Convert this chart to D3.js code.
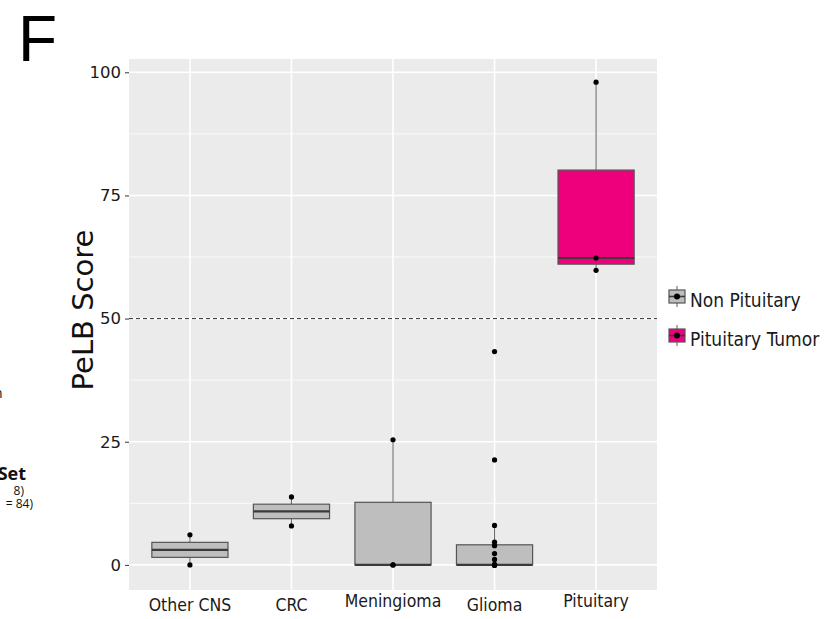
<!DOCTYPE html>
<html>
<head>
<meta charset="utf-8">
<script src="https://cdn.jsdelivr.net/npm/d3@7"></script>
<style>
  html, body { margin: 0; padding: 0; background: #ffffff; }
  svg { display: block; }
</style>
</head>
<body>
<div id="chart"></div>
<script>
// PeLB score by tumour type — ggplot-style boxplot redrawn with D3

const categories = ["Other CNS", "CRC", "Meningioma", "Glioma", "Pituitary"];
const categoryGroup = ["Non Pituitary", "Non Pituitary", "Non Pituitary", "Non Pituitary", "Pituitary Tumor"];
const groups = ["Non Pituitary", "Pituitary Tumor"];

// individual scores per category
const otherCNS = [0.0, 6.1];
const crc = [7.9, 13.8];
const meningioma = [0.0, 0.0, 25.4];
const glioma = [0, 0, 0, 0, 0, 0, 0, 0, 0, 1.1, 2.3, 3.9, 4.6, 8.0, 21.3, 43.3];
const pituitary = [59.8, 62.3, 98.0];
const scores = [otherCNS, crc, meningioma, glioma, pituitary];

const yTicks = [0, 25, 50, 75, 100];
const yMinor = [12.5, 37.5, 62.5, 87.5];
const cutoff = 50;
const yTitle = "PeLB Score";

(function () {
  "use strict";

  const W = 830, H = 619;
  const FONT = "'DejaVu Sans', sans-serif";
  const FONT_COND = "'DejaVu Sans Condensed', 'DejaVu Sans', sans-serif";
  const fills = { "Non Pituitary": "#bebebe", "Pituitary Tumor": "#ee007d" };

  const panel = { left: 129, right: 657, top: 59, bottom: 590 };

  const svg = d3.select("#chart").append("svg")
    .attr("width", W).attr("height", H);

  svg.append("rect").attr("width", W).attr("height", H).attr("fill", "#ffffff");

  const x = d3.scalePoint()
    .domain(categories)
    .range([panel.left, panel.right])
    .padding(0.6);
  const boxW = x.step() * 0.75;

  const y = d3.scaleLinear()
    .domain([-5.1, 102.7])
    .range([panel.bottom, panel.top]);

  // panel background + grid
  svg.append("rect")
    .attr("x", panel.left).attr("y", panel.top)
    .attr("width", panel.right - panel.left).attr("height", panel.bottom - panel.top)
    .attr("fill", "#ebebeb");

  svg.append("g").selectAll("line").data(yMinor).enter().append("line")
    .attr("x1", panel.left).attr("x2", panel.right)
    .attr("y1", d => y(d)).attr("y2", d => y(d))
    .attr("stroke", "#ffffff").attr("stroke-width", 0.8);

  svg.append("g").selectAll("line").data(yTicks).enter().append("line")
    .attr("x1", panel.left).attr("x2", panel.right)
    .attr("y1", d => y(d)).attr("y2", d => y(d))
    .attr("stroke", "#ffffff").attr("stroke-width", 1.6);

  svg.append("g").selectAll("line").data(categories).enter().append("line")
    .attr("x1", d => x(d)).attr("x2", d => x(d))
    .attr("y1", panel.top).attr("y2", panel.bottom)
    .attr("stroke", "#ffffff").attr("stroke-width", 1.6);

  // y axis
  const yAxis = svg.append("g")
    .attr("transform", `translate(${panel.left},0)`)
    .call(d3.axisLeft(y).tickValues(yTicks).tickSize(4).tickPadding(4));
  yAxis.select(".domain").remove();
  yAxis.selectAll(".tick line").attr("stroke", "#333333").attr("stroke-width", 1);
  yAxis.selectAll(".tick text")
    .attr("fill", "#1a1a1a").attr("font-size", "16.5px").attr("font-family", FONT);

  // x axis labels (ggplot nudges the labels with descenders up a little)
  const labelLift = { "Meningioma": -4, "Pituitary": -4 };
  svg.append("g").selectAll("text").data(categories).enter().append("text")
    .attr("x", d => x(d))
    .attr("y", d => 611 + (labelLift[d] || 0))
    .attr("text-anchor", "middle")
    .attr("fill", "#1a1a1a").attr("font-size", "17.5px").attr("font-family", FONT_COND)
    .text(d => d);

  // y title
  svg.append("text")
    .attr("transform", "translate(93,310) rotate(-90)")
    .attr("text-anchor", "middle")
    .attr("fill", "#111111").attr("font-size", "29px").attr("font-family", FONT)
    .text(yTitle);

  // boxplot statistics (type-7 quantiles, Tukey whiskers)
  const stats = scores.map((vals, i) => {
    const s = vals.slice().sort(d3.ascending);
    const q1 = d3.quantile(s, 0.25), med = d3.quantile(s, 0.5), q3 = d3.quantile(s, 0.75);
    const iqr = q3 - q1;
    const lo = d3.min(s.filter(v => v >= q1 - 1.5 * iqr));
    const hi = d3.max(s.filter(v => v <= q3 + 1.5 * iqr));
    return { cat: categories[i], group: categoryGroup[i], q1, med, q3, lo, hi, vals: s };
  });

  const boxes = svg.append("g").selectAll("g").data(stats).enter().append("g");

  boxes.append("line")
    .attr("x1", d => x(d.cat)).attr("x2", d => x(d.cat))
    .attr("y1", d => y(d.q3)).attr("y2", d => y(d.hi))
    .attr("stroke", "#6a6a6a").attr("stroke-width", 1.1);
  boxes.append("line")
    .attr("x1", d => x(d.cat)).attr("x2", d => x(d.cat))
    .attr("y1", d => y(d.q1)).attr("y2", d => y(d.lo))
    .attr("stroke", "#6a6a6a").attr("stroke-width", 1.1);

  boxes.append("rect")
    .attr("x", d => x(d.cat) - boxW / 2)
    .attr("y", d => y(d.q3))
    .attr("width", boxW)
    .attr("height", d => Math.max(1, y(d.q1) - y(d.q3)))
    .attr("fill", d => fills[d.group])
    .attr("stroke", "#555555").attr("stroke-width", 1.2);

  boxes.append("line")
    .attr("x1", d => x(d.cat) - boxW / 2).attr("x2", d => x(d.cat) + boxW / 2)
    .attr("y1", d => y(d.med)).attr("y2", d => y(d.med))
    .attr("stroke", "#3a3a3a").attr("stroke-width", 2.2);

  // cut-off line
  svg.append("line")
    .attr("x1", panel.left).attr("x2", panel.right)
    .attr("y1", y(cutoff)).attr("y2", y(cutoff))
    .attr("stroke", "#333333").attr("stroke-width", 1)
    .attr("stroke-dasharray", "4,3");

  // data points
  boxes.selectAll("circle").data(d => d.vals.map(v => ({ cat: d.cat, v }))).enter()
    .append("circle")
    .attr("cx", d => x(d.cat)).attr("cy", d => y(d.v))
    .attr("r", 2.6).attr("fill", "#000000");

  // legend
  const legend = svg.append("g");
  const keyTop = [290, 329];
  groups.forEach((g, i) => {
    const k = legend.append("g").attr("transform", `translate(669,${keyTop[i]})`);
    k.append("line").attr("x1", 8).attr("x2", 8).attr("y1", -4).attr("y2", 17)
      .attr("stroke", "#6a6a6a").attr("stroke-width", 1.1);
    k.append("rect").attr("x", 0).attr("y", 0).attr("width", 16).attr("height", 13)
      .attr("fill", fills[g]).attr("stroke", "#555555").attr("stroke-width", 1.2);
    k.append("line").attr("x1", 0).attr("x2", 16).attr("y1", 6.5).attr("y2", 6.5)
      .attr("stroke", "#3a3a3a").attr("stroke-width", 1.6);
    k.append("circle").attr("cx", 8).attr("cy", 6.5).attr("r", 3).attr("fill", "#000000");
    k.append("text").attr("x", 21).attr("y", 16.5)
      .attr("fill", "#1a1a1a").attr("font-size", "19px").attr("font-family", FONT_COND)
      .text(g);
  });

  // panel tag
  svg.append("text")
    .attr("x", 18).attr("y", 61)
    .attr("fill", "#000000").attr("font-size", "64px")
    .attr("font-family", "'Liberation Sans', Arial, sans-serif")
    .text("F");

  // pieces of the neighbouring panel cut by the left edge
  const OPEN = "'Open Sans', 'Noto Sans', sans-serif";
  svg.append("text").attr("x", 2.5).attr("y", 398).attr("text-anchor", "end")
    .attr("font-size", "14px").attr("font-family", OPEN).attr("fill", "#111").text("n");
  svg.append("text").attr("x", 26).attr("y", 480).attr("text-anchor", "end")
    .attr("font-size", "18px").attr("font-weight", "bold").attr("font-family", OPEN)
    .attr("fill", "#111").text("Set");
  svg.append("text").attr("x", 24).attr("y", 495).attr("text-anchor", "end")
    .attr("font-size", "12px").attr("font-family", OPEN).attr("fill", "#111").text("8)");
  svg.append("text").attr("x", 33).attr("y", 508).attr("text-anchor", "end")
    .attr("font-size", "12px").attr("font-family", OPEN).attr("fill", "#111").text("= 84)");
})();
</script>
</body>
</html>
